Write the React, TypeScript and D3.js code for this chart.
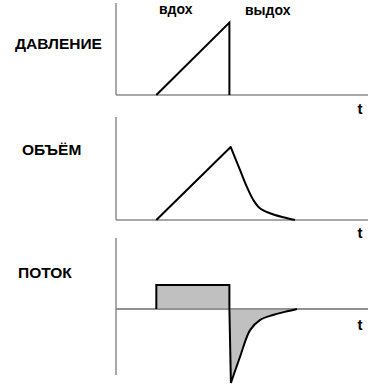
import React from "react";
import * as d3 from "d3";

const tMax = 100;

// pressure
const pressureT = [16, 45, 45];
const pressureV = [0, 1, 0];

// volume
const volumeT = [16, 45.5, 49.2, 51.9, 54.5, 57.1, 61.1, 66.4, 71.0];
const volumeV = [0, 1, 0.685, 0.456, 0.274, 0.16, 0.092, 0.037, 0];

// flow (inhale plateau, then expiratory decay)
const flowInT = [16, 16, 45, 45];
const flowInV = [0, 1, 1, 0];
const flowExT = [45, 45.6, 49.2, 53.2, 57.1, 62.3, 67, 71.8];
const flowExV = [0, -3.08, -2.0, -0.88, -0.46, -0.25, -0.12, 0];

const panelLabels = ["ДАВЛЕНИЕ", "ОБЪЁМ", "ПОТОК"];
const phaseLabels = ["вдох", "выдох"];
const axisLabel = "t";

export default function App() {
  const x = d3.scaleLinear().domain([0, tMax]).range([116, 368]);
  const yP = d3.scaleLinear().domain([0, 1.27]).range([95, 3]);
  const yV = d3.scaleLinear().domain([0, 1.41]).range([220, 117]);
  const yF = d3.scaleLinear().domain([-2.75, 2.96]).range([375, 238]);

  const mk = (ts: number[], ys: d3.ScaleLinear<number, number>) =>
    d3.line<number>().x((_, i) => x(ts[i])).y((d) => ys(d));
  const mkCurve = (ts: number[], ys: d3.ScaleLinear<number, number>) =>
    d3
      .line<number>()
      .x((_, i) => x(ts[i]))
      .y((d) => ys(d))
      .curve(d3.curveCatmullRom.alpha(0.5));

  const pressurePath = mk(pressureT, yP)(pressureV) || "";
  const volRise = `M${x(volumeT[0])},${yV(volumeV[0])}`;
  const decT = volumeT.slice(1);
  const decV = volumeV.slice(1);
  const volumePath = volRise + (mkCurve(decT, yV)(decV) || "").replace(/^M/, "L");

  const flowInPath = mk(flowInT, yF)(flowInV) || "";
  const exT = flowExT.slice(1);
  const exV = flowExV.slice(1);
  const flowExPath =
    `M${x(flowExT[0])},${yF(flowExV[0])}` +
    (mkCurve(exT, yF)(exV) || "").replace(/^M/, "L");

  const axisColor = "#8a8a8a";
  const font = "'Liberation Sans', Arial, sans-serif";

  const axes = [
    { top: yP.range()[1], zero: yP(0) },
    { top: yV.range()[1], zero: yV(0) },
    { top: yF.range()[1], zero: yF(0), bottom: yF.range()[0] },
  ];
  const labelY = [49, 155, 278];
  const labelX = [15, 22, 18];
  const tY = [114, 238, 330];

  return (
    <svg
      width={387}
      height={386}
      style={{ position: "absolute", left: 0, top: 0, background: "#fff" }}
    >
      {axes.map((a, i) => (
        <g key={i}>
          <line
            x1={x(0)}
            x2={x(0)}
            y1={a.top}
            y2={a.bottom ?? a.zero}
            stroke="#555"
            strokeWidth={1}
          />
          <line
            x1={x(0)}
            x2={x(tMax)}
            y1={a.zero}
            y2={a.zero}
            stroke={axisColor}
            strokeWidth={1.5}
          />
          <text
            x={labelX[i]}
            y={labelY[i]}
            fontFamily={font}
            fontWeight="bold"
            fontSize={15.5}
            fill="#000"
          >
            {panelLabels[i]}
          </text>
          <text
            x={360}
            y={tY[i]}
            fontFamily={font}
            fontWeight="bold"
            fontSize={15}
            textAnchor="middle"
            fill="#000"
          >
            {axisLabel}
          </text>
        </g>
      ))}

      <text x={159} y={14} fontFamily={font} fontWeight="bold" fontSize={14} fill="#000">
        {phaseLabels[0]}
      </text>
      <text x={245} y={15} fontFamily={font} fontWeight="bold" fontSize={14} fill="#000">
        {phaseLabels[1]}
      </text>

      <path d={pressurePath} fill="none" stroke="#000" strokeWidth={2} />
      <path d={volumePath} fill="none" stroke="#000" strokeWidth={2} strokeLinejoin="round" />

      <path d={flowInPath + "Z"} fill="#c0c0c0" stroke="none" />
      <path d={flowExPath + "Z"} fill="#c0c0c0" stroke="none" />
      <line x1={x(0)} x2={x(tMax)} y1={yF(0)} y2={yF(0)} stroke={axisColor} strokeWidth={1.5} />
      <path d={flowInPath} fill="none" stroke="#000" strokeWidth={2} />
      <path d={flowExPath} fill="none" stroke="#000" strokeWidth={2} />
    </svg>
  );
}
